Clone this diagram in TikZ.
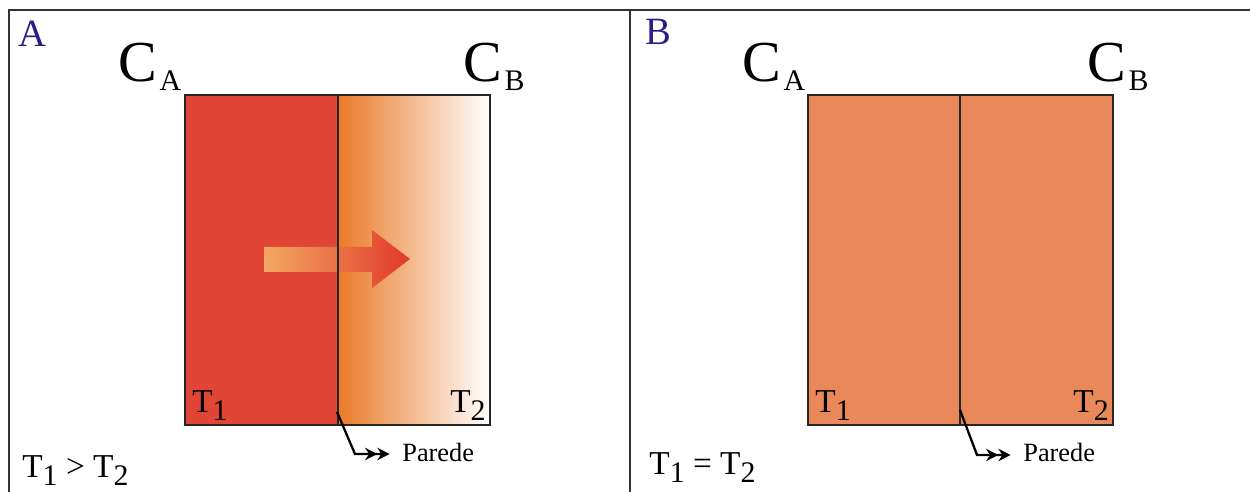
\documentclass[tikz,border=0pt]{standalone}
\usepackage{fontspec}
\setmainfont{Liberation Serif}
\usetikzlibrary{arrows.meta}

\definecolor{hotred}{HTML}{E04535}
\definecolor{wallorange}{HTML}{EA7A28}
\definecolor{eqorange}{HTML}{E98858}
\definecolor{labblue}{HTML}{2B1F86}
\definecolor{arrowlight}{HTML}{F3A862}
\definecolor{arrowdark}{HTML}{E1392A}

\newcommand{\subC}[2]{#1\hspace{1.5pt}\raisebox{-5pt}{\fontsize{17}{17}\selectfont #2}}
\newcommand{\subT}[2]{#1\raisebox{-4.5pt}{\fontsize{17}{17}\selectfont #2}}

\begin{document}
\begin{tikzpicture}[x=0.02cm, y=-0.02cm,
  txt/.style={inner sep=0pt, anchor=base west},
  bigC/.style={txt, font=\fontsize{33}{33}\selectfont},
  tlab/.style={txt, font=\fontsize{19}{19}\selectfont},
  panel/.style={txt, font=\fontsize{22}{22}\selectfont, text=labblue},
  wallnote/.style={txt, font=\fontsize{15}{15}\selectfont},
  box/.style={draw=black!85, line width=1.4pt},
  pointer/.style={line width=1.3pt, shorten >=7pt,
    -{Stealth[length=7pt,width=7pt]Stealth[length=7pt,width=7pt]}}]
  \useasboundingbox (0,0) rectangle (1250,492);
  % frame
  \draw[black!80, line width=1.3pt] (9,492) -- (9,10) -- (1250,10);
  \draw[black!80, line width=1.3pt] (630,10) -- (630,492);

  % panel A: heat flows through the wall
  \fill[hotred] (185,95) rectangle (338,425);
  \shade[left color=wallorange, right color=white] (338,95) rectangle (490,425);
  \shade[left color=arrowlight, right color=arrowdark]
    (264,247) -- (372,247) -- (372,230) -- (410,259) -- (372,288) -- (372,272) -- (264,272) -- cycle;
  \draw[box] (185,95) rectangle (490,425);
  \coordinate (topA) at (338,95);
  \coordinate (botA) at (338,425);
  \draw[box] (topA) -- (botA);
  \node[panel] (labA) at (18,47) {A};
  \node[bigC] (cAleft) at (118,82) {\subC{C}{A}};
  \node[bigC] (cBleft) at (463,82) {\subC{C}{B}};
  \node[tlab] (t1left) at (192,413) {\subT{T}{1}};
  \node[tlab] (t2left) at (450,413) {\subT{T}{2}};
  \node[tlab] (relA) at (22,478) {\subT{T}{1} > \subT{T}{2}};
  \node[wallnote] (parA) at (402,462) {Parede};
  \coordinate (wallA) at (337,412);
  \coordinate (bendA) at (355,454);
  \draw[pointer] (wallA) -- (bendA) -- (bendA -| parA.west);

  % panel B: equilibrium
  \begin{scope}[shift={(623,0)}]
    \fill[eqorange] (185,95) rectangle (490,425);
    \draw[box] (185,95) rectangle (490,425);
    \coordinate (topB) at (337,95);
    \coordinate (botB) at (337,425);
    \draw[box] (topB) -- (botB);
    \node[panel] (labB) at (22,45) {B};
    \node[bigC] (cAright) at (119,82) {\subC{C}{A}};
    \node[bigC] (cBright) at (464,82) {\subC{C}{B}};
    \node[tlab] (t1right) at (192,413) {\subT{T}{1}};
    \node[tlab] (t2right) at (450,413) {\subT{T}{2}};
    \node[tlab] (relB) at (26,475) {\subT{T}{1} = \subT{T}{2}};
    \node[wallnote] (parB) at (400,462) {Parede};
    \coordinate (wallB) at (337,410);
    \coordinate (bendB) at (354,455);
    \draw[pointer] (wallB) -- (bendB) -- (bendB -| parB.west);
  \end{scope}
\end{tikzpicture}
\end{document}
